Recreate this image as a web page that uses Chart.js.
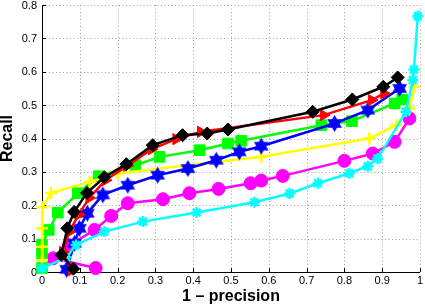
<!DOCTYPE html>
<html>
<head>
<meta charset="utf-8">
<script src="https://cdn.jsdelivr.net/npm/chart.js@4"></script>
<style>
  body { margin: 0; background: #fff; }
  canvas { display: block; }
</style>
</head>
<body>
<canvas id="prChart" width="425" height="305"></canvas>
<script>
// axis ticks
const xTicks = [0, 0.1, 0.2, 0.3, 0.4, 0.5, 0.6, 0.7, 0.8, 0.9, 1];
const xTickLabels = ['0', '0.1', '0.2', '0.3', '0.4', '0.5', '0.6', '0.7', '0.8', '0.9', '1'];
const yTicks = [0, 0.1, 0.2, 0.3, 0.4, 0.5, 0.6, 0.7, 0.8];
const yTickLabels = ['0', '0.1', '0.2', '0.3', '0.4', '0.5', '0.6', '0.7', '0.8'];

// [1 - precision, recall] for each curve
const blackPR = [[0.083,0.010],[0.051,0.051],[0.067,0.131],[0.085,0.180],[0.119,0.237],[0.165,0.284],[0.223,0.323],[0.293,0.380],[0.372,0.410],[0.437,0.415],[0.492,0.427],[0.716,0.480],[0.821,0.517],[0.903,0.555],[0.941,0.583]];
const redPR = [[0.078,0.005],[0.055,0.060],[0.072,0.120],[0.097,0.172],[0.125,0.222],[0.168,0.275],[0.225,0.318],[0.290,0.368],[0.355,0.398],[0.420,0.420],[0.745,0.470],[0.872,0.515],[0.905,0.535]];
const greenPR = [[0,0.012],[0,0.050],[0,0.082],[0.018,0.126],[0.042,0.178],[0.095,0.236],[0.150,0.287],[0.247,0.320],[0.311,0.345],[0.417,0.365],[0.492,0.385],[0.527,0.393],[0.739,0.440],[0.820,0.452],[0.933,0.505],[0.953,0.517]];
const bluePR = [[0.065,0.008],[0.086,0.086],[0.099,0.131],[0.120,0.176],[0.161,0.231],[0.227,0.260],[0.306,0.290],[0.386,0.310],[0.461,0.335],[0.522,0.360],[0.580,0.377],[0.774,0.445],[0.862,0.485],[0.946,0.550]];
const yellowPR = [[0,0.036],[0,0.076],[0,0.131],[0.002,0.194],[0.024,0.237],[0.126,0.270],[0.200,0.295],[0.580,0.345],[0.866,0.400],[0.937,0.440],[0.972,0.490],[0.985,0.555]];
const magentaPR = [[0.142,0.012],[0.029,0.041],[0.072,0.080],[0.139,0.126],[0.183,0.168],[0.227,0.206],[0.320,0.218],[0.390,0.236],[0.467,0.249],[0.552,0.266],[0.580,0.274],[0.637,0.288],[0.800,0.333],[0.875,0.355],[0.933,0.390],[0.972,0.460]];
const cyanPR = [[0,0.011],[0.064,0.044],[0.090,0.081],[0.165,0.121],[0.267,0.151],[0.409,0.178],[0.562,0.209],[0.655,0.235],[0.730,0.266],[0.813,0.296],[0.862,0.317],[0.888,0.340],[0.963,0.480],[0.981,0.575],[0.984,0.607],[0.994,0.766]];

const toPoints = arr => arr.map(p => ({ x: p[0], y: p[1] }));

// big markers otherwise push the plot area in from the top/right
Chart.registry.getController('line').prototype.getMaxOverflow = function () { return 0; };

// filled six-pointed star like matlab's 'hexagram'
function hexagram(color, r) {
    const s = Math.ceil(r * 2 + 2);
    const c = document.createElement('canvas');
    c.width = s; c.height = s;
    const g = c.getContext('2d');
    g.fillStyle = color;
    [-Math.PI / 2, Math.PI / 2].forEach(off => {
        g.beginPath();
        for (let k = 0; k < 3; k++) {
            const a = off + k * 2 * Math.PI / 3;
            g.lineTo(s / 2 + r * Math.cos(a), s / 2 + r * Math.sin(a));
        }
        g.closePath();
        g.fill();
    });
    return c;
}

function series(data, color, style, radius, extra) {
    return Object.assign({
        data: toPoints(data),
        borderColor: color,
        backgroundColor: color,
        borderWidth: 2.5,
        pointStyle: style,
        pointRadius: radius,
        pointBorderWidth: 1,
        pointBorderColor: color,
        pointBackgroundColor: color,
        tension: 0,
        clip: false
    }, extra || {});
}

// dotted grid, solid left/bottom axes with inward ticks, tick labels
const matlabAxes = {
    id: 'matlabAxes',
    beforeDatasetsDraw(chart) {
        const { ctx, chartArea: a, scales: { x, y } } = chart;
        ctx.save();
        ctx.strokeStyle = '#a0a0a0';
        ctx.lineWidth = 1;
        ctx.setLineDash([1, 2.5]);
        ctx.beginPath();
        xTicks.forEach(v => {
            const px = Math.round(x.getPixelForValue(v)) + 0.5;
            ctx.moveTo(px, a.top);
            ctx.lineTo(px, a.bottom);
        });
        yTicks.forEach(v => {
            const py = Math.round(y.getPixelForValue(v)) + 0.5;
            ctx.moveTo(a.left, py);
            ctx.lineTo(a.right, py);
        });
        ctx.stroke();
        ctx.setLineDash([]);

        ctx.strokeStyle = '#000';
        ctx.beginPath();
        ctx.moveTo(a.left + 0.5, a.top);
        ctx.lineTo(a.left + 0.5, a.bottom + 0.5);
        ctx.lineTo(a.right, a.bottom + 0.5);
        xTicks.forEach(v => {
            const px = Math.round(x.getPixelForValue(v)) + 0.5;
            ctx.moveTo(px, a.bottom);
            ctx.lineTo(px, a.bottom - 4);
        });
        yTicks.forEach(v => {
            const py = Math.round(y.getPixelForValue(v)) + 0.5;
            ctx.moveTo(a.left, py);
            ctx.lineTo(a.left + 4, py);
        });
        ctx.stroke();

        ctx.fillStyle = '#000';
        ctx.font = '11px "Liberation Sans"';
        ctx.textAlign = 'center';
        ctx.textBaseline = 'middle';
        xTicks.forEach((v, i) => {
            ctx.fillText(xTickLabels[i], x.getPixelForValue(v), a.bottom + 9);
        });
        ctx.textAlign = 'right';
        yTicks.forEach((v, i) => {
            ctx.fillText(yTickLabels[i], a.left - 5, y.getPixelForValue(v) + 0.5);
        });
        ctx.restore();
    }
};

new Chart(document.getElementById('prChart'), {
    type: 'line',
    data: {
        datasets: [
            series(blackPR, '#000000', 'rectRot', 6.5),
            series(redPR, '#ff0000', 'triangle', 6.5, { pointRotation: 90 }),
            series(cyanPR, '#00ffff', 'star', 5.5, { pointBorderWidth: 2.5 }),
            series(bluePR, '#0000ff', hexagram('#0000ff', 8.5)),
            series(yellowPR, '#ffff00', 'cross', 6, { pointBorderWidth: 2.5 }),
            series(greenPR, '#00ff00', 'rect', 7.5),
            series(magentaPR, '#ff00ff', 'circle', 6.5)
        ]
    },
    options: {
        responsive: false,
        animation: false,
        events: [],
        layout: { padding: { top: 5, right: 5, left: 0, bottom: 0 } },
        plugins: { legend: { display: false }, tooltip: { enabled: false } },
        scales: {
            x: {
                type: 'linear',
                min: 0,
                max: 1,
                afterBuildTicks: s => { s.ticks = xTicks.map(v => ({ value: v })); },
                afterFit: s => { s.height = 33; },
                grid: { display: false },
                border: { display: false },
                ticks: { display: false },
                title: {
                    display: true,
                    text: '1 \u2013 precision',
                    color: '#000',
                    padding: 0,
                    font: { family: 'Liberation Sans', size: 16, weight: 'bold', lineHeight: 1 }
                }
            },
            y: {
                type: 'linear',
                min: 0,
                max: 0.8,
                afterBuildTicks: s => { s.ticks = yTicks.map(v => ({ value: v })); },
                afterFit: s => { s.width = 42; },
                grid: { display: false },
                border: { display: false },
                ticks: { display: false },
                title: {
                    display: true,
                    text: 'Recall',
                    color: '#000',
                    padding: 0,
                    font: { family: 'Liberation Sans', size: 16, weight: 'bold', lineHeight: 1 }
                }
            }
        }
    },
    plugins: [matlabAxes]
});
</script>
</body>
</html>
